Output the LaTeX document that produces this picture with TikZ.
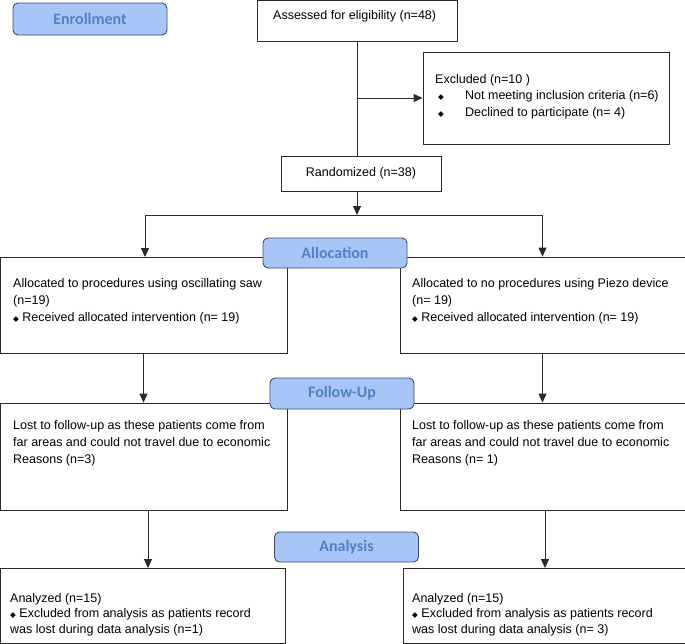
\documentclass[tikz,border=0pt]{standalone}
\usepackage{fontspec}
\setmainfont{Liberation Sans}
\newfontfamily\lblfont{Carlito}
\newfontfamily\symfont{DejaVu Sans}
\usetikzlibrary{arrows.meta}
\definecolor{lblfill}{HTML}{A7C6F7}
\definecolor{lbltext}{HTML}{5281BF}
\definecolor{lbldraw}{HTML}{3C4A66}
\definecolor{boxdraw}{HTML}{2A2A2A}
\newcommand{\dia}{{\symfont\fontsize{7.5}{7.5}\selectfont ◆}}
\tikzset{
  x=1pt, y=-1pt,
  box/.style={draw=boxdraw, line width=0.9pt, inner sep=0pt},
  stage/.style={draw=lbldraw, fill=lblfill, line width=0.9pt, rounded corners=5pt,
    inner sep=0pt, minimum width=144pt, minimum height=30pt,
    font=\lblfont\bfseries\fontsize{16}{16}\selectfont, text=lbltext},
  txt/.style={inner sep=0pt, anchor=north west, align=left,
    font=\fontsize{12.5}{17}\selectfont},
  arr/.style={-{Triangle[width=8pt,length=9pt]}, line width=0.9pt, draw=boxdraw}
}

\begin{document}
\begin{tikzpicture}
\useasboundingbox (0,0) rectangle (685,643);

% enrollment
\node[stage, minimum width=154pt, minimum height=32pt] (enroll) at (90,19) {Enrollment};
\node[box, minimum width=200pt, minimum height=41pt] (assess) at (357,21) {};
\node[txt, anchor=base west] (assesst) at (273,19.5) {Assessed for eligibility (n=48)};
\node[box, minimum width=246pt, minimum height=92pt] (excl) at (546,98) {};
\node[txt, font=\fontsize{12.5}{16.5}\selectfont] (exclt) at (435,74.2)
  {Excluded (n=10 )\\
   \hspace*{3pt}\makebox[27pt][l]{\dia}Not meeting inclusion criteria (n=6)\\
   \hspace*{3pt}\makebox[27pt][l]{\dia}Declined to participate (n= 4)};
\node[box, minimum width=160pt, minimum height=35pt] (rand) at (361,173.5) {};
\node[txt, anchor=center] (randt) at (rand) {Randomized (n=38)};

\draw[line width=0.9pt, draw=boxdraw] (assess.south) -- (assess.south |- rand.north);
\draw[arr] (assess.south |- excl.west) -- (excl.west);

% allocation
\node[box, minimum width=287pt, minimum height=96pt] (left1) at (143.5,305) {};
\node[box, minimum width=285pt, minimum height=96pt] (right1) at (542.5,305) {};
\node[txt] (left1t) at (13,278.2)
  {Allocated to procedures using oscillating saw\\(n=19)\\\dia\ Received allocated intervention (n= 19)};
\node[txt] (right1t) at (412,278.2)
  {Allocated to no procedures using Piezo device\\(n= 19)\\\dia\ Received allocated intervention (n= 19)};
\coordinate (split) at (357,215);
\draw[arr] (assess.south |- rand.south) -- (split);
\draw[arr] (split) -| (145,257);
\draw[arr] (split) -| (right1.north);
\node[stage] (alloc) at (335,253) {Allocation};

% follow-up
\node[box, minimum width=287pt, minimum height=107pt] (left2) at (143.5,456.5) {};
\node[box, minimum width=285pt, minimum height=107pt] (right2) at (542.5,456.5) {};
\node[txt] (left2t) at (13,420.2)
  {Lost to follow-up as these patients come from\\far areas and could not travel due to economic\\Reasons (n=3)};
\node[txt] (right2t) at (412,420.2)
  {Lost to follow-up as these patients come from\\far areas and could not travel due to economic\\Reasons (n= 1)};
\draw[arr] (left1.south) -- (left2.north);
\draw[arr] (right1.south) -- (right2.north);
\node[stage, minimum height=31pt] (fup) at (342,393.5) {Follow-Up};

% analysis
\node[box, minimum width=285pt, minimum height=75pt] (left3) at (142.5,606) {};
\node[box, minimum width=282pt, minimum height=75pt] (right3) at (544,606) {};
\node[txt, font=\fontsize{12.5}{15.5}\selectfont] (left3t) at (10,593.2)
  {Analyzed (n=15)\\\dia\ Excluded from analysis as patients record\\was lost during data analysis (n=1)};
\node[txt, font=\fontsize{12.5}{15.5}\selectfont] (right3t) at (412,593.2)
  {Analyzed (n=15)\\\dia\ Excluded from analysis as patients record\\was lost during data analysis (n= 3)};
\draw[arr] ([xshift=4.5]left2.south) -- ([xshift=4.5]left2.south |- left3.north);
\draw[arr] ([xshift=2.5]right2.south) -- ([xshift=2.5]right2.south |- right3.north);
\node[stage] (anal) at (346.5,547) {Analysis};
\end{tikzpicture}
\end{document}
